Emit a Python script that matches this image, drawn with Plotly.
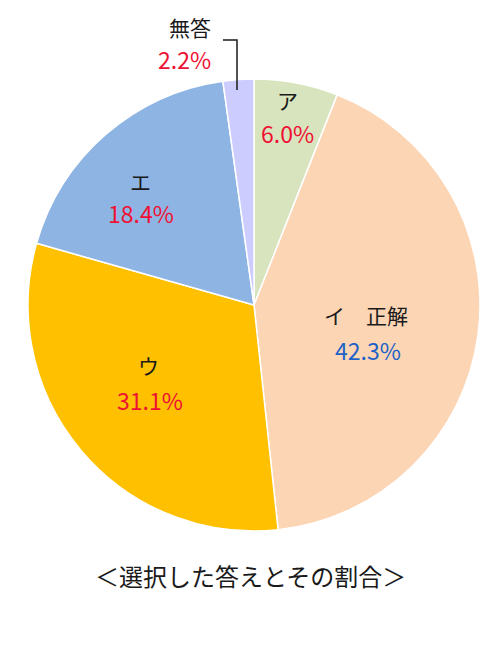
import plotly.graph_objects as go

# data
labels = ["ア", "イ　正解", "ウ", "エ", "無答"]
values = [6.0, 42.3, 31.1, 18.4, 2.2]
title_text = "＜選択した答えとその割合＞"

# styling
slice_colors = ["#d7e4bd", "#fcd5b5", "#ffc000", "#8eb4e3", "#ccccff"]
pct_colors = ["#ee1133", "#1f62c7", "#ee1133", "#ee1133", "#ee1133"]
# label centres in pixels (name line, percent line)
name_pos = [(287, 100), (366, 315), (148, 365), (140, 181), (190, 27)]
pct_pos = [(287, 133), (368, 350), (150, 400), (141, 213), (184, 59)]

W, H = 500, 660
OFF = 8  # page body margin
font = "Noto Sans CJK JP"


def px(x, y):
    return (x - OFF) / W, 1 - (y - OFF) / H


fig = go.Figure()
fig.add_trace(go.Pie(
    labels=labels, values=values, sort=False, direction="clockwise", rotation=0,
    marker=dict(colors=slice_colors, line=dict(color="white", width=1.5)),
    textinfo="none", hoverinfo="label+percent", showlegend=False,
    domain=dict(x=[px(28, 0)[0], px(480, 0)[0]], y=[px(0, 531)[1], px(0, 79)[1]]),
))

anns = []
for i, lab in enumerate(labels):
    x, y = px(*name_pos[i])
    anns.append(dict(x=x, y=y, xref="paper", yref="paper", text=lab, showarrow=False,
                     xanchor="center", yanchor="middle",
                     font=dict(family=font, size=21, color="#1a1a1a")))
    x, y = px(*pct_pos[i])
    anns.append(dict(x=x, y=y, xref="paper", yref="paper", text=f"{values[i]:.1f}%",
                     showarrow=False, xanchor="center", yanchor="middle",
                     font=dict(family=font, size=23, color=pct_colors[i])))

x, y = px(250, 575)
anns.append(dict(x=x, y=y, xref="paper", yref="paper", text=title_text, showarrow=False,
                 xanchor="center", yanchor="middle",
                 font=dict(family=font, size=24, color="#1a1a1a")))

# leader line for the small slice
x0, y0 = px(223, 40)
x1, y1 = px(237, 40)
x2, y2 = px(237, 90)
shapes = [dict(type="path", xref="paper", yref="paper",
               path=f"M {x0},{y0} L {x1},{y1} L {x2},{y2}",
               line=dict(color="#1a1a1a", width=1.5))]

fig.update_layout(
    width=W, height=H, margin=dict(l=0, r=0, t=0, b=0),
    paper_bgcolor="white", plot_bgcolor="white",
    annotations=anns, shapes=shapes,
)
fig.write_html("out.html")
